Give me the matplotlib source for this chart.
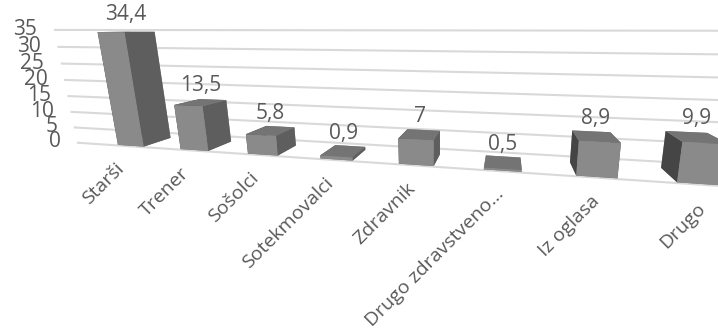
import numpy as np
import matplotlib.pyplot as plt
from mpl_toolkits.mplot3d import proj3d

categories = ["Starši", "Trener", "Sošolci", "Sotekmovalci", "Zdravnik",
              "Drugo zdravstveno…", "Iz oglasa", "Drugo"]
values = [34.4, 13.5, 5.8, 0.9, 7, 0.5, 8.9, 9.9]
value_labels = ["34,4", "13,5", "5,8", "0,9", "7", "0,5", "8,9", "9,9"]
z_ticks = [0, 5, 10, 15, 20, 25, 30, 35]

plt.rcParams['font.family'] = ['Open Sans', 'DejaVu Sans']
TEXT = '#595959'

W, H = 7.18, 3.29
fig = plt.figure(figsize=(W, H), dpi=100)
# 3D axes are kept square; make the square as wide as the figure
side = W / H
cy = 0.674
ax = fig.add_axes([0.103, cy - side / 2, 1, side], projection='3d',
                  proj_type='persp', focal_length=0.0924)
ax.set_axis_off()
ax.computed_zorder = False
ax.view_init(elev=11, azim=-80, roll=0)
x_lo, x_hi = -0.6, 9.16
ax.set_xlim(x_lo, x_hi)
ax.set_ylim(0, 0.9)
ax.set_zlim(0, 35)
ax.set_box_aspect((x_hi - x_lo, 0.9, 1.55), zoom=1.145)

n = len(values)
x = np.arange(n)
w = 0.42
d = 0.4
y0 = 0.25
y_grid = y0 - 0.02
x_grid = -0.86

# value gridlines, kept behind the columns
for t in z_ticks:
    ln, = ax.plot([x_grid, 11], [y_grid, y_grid], [t, t], color='#d9d9d9', lw=1.5, zorder=1)
    ln.set_clip_on(False)
    ax.text(x_grid - 0.3, y_grid, t, str(t), ha='right', va='center',
            fontsize=15, color=TEXT, zorder=3)

# per-face colours: bottom, top, front, back, left, right
face = ['#6e6e6e', '#747474', '#8a8a8a', '#8a8a8a', '#454545', '#5e5e5e']
colors = [c for _ in range(n) for c in face]
bars = ax.bar3d(x - w / 2, np.full(n, y0), np.zeros(n), w, d, values,
                color=colors, shade=False, zorder=2)
bars.set_clip_on(False)

for xi, v, s in zip(x, values, value_labels):
    ax.text(xi, y0 + d / 2, v + 2.0, s, ha='center', va='bottom',
            fontsize=15, color=TEXT, zorder=3)

M = ax.get_proj()
for xi, s in zip(x, categories):
    px, py, _ = proj3d.proj_transform(xi, y0 - 0.1, 0, M)
    ax.annotate(s, xy=(px, py), xycoords='data', xytext=(-6, -8), textcoords='offset points',
                rotation=45, rotation_mode='anchor', ha='right', va='top',
                fontsize=14, color=TEXT, annotation_clip=False, zorder=3)

fig.savefig('out.png', dpi=100)
